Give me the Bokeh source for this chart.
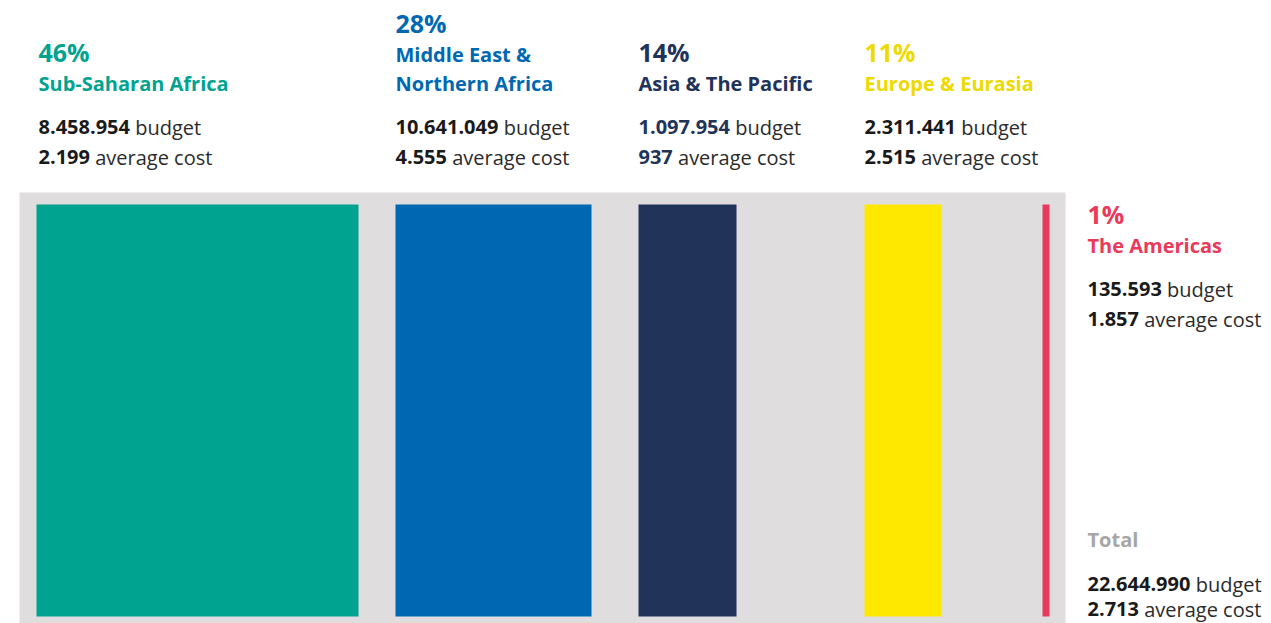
from bokeh.plotting import figure
from bokeh.models import Range1d, ColumnDataSource
from bokeh.embed import file_html
from bokeh.resources import INLINE
from bokeh.core.properties import value

# ---------------- data ----------------
regions = ["Sub-Saharan Africa", "Middle East &\nNorthern Africa", "Asia & The Pacific",
           "Europe & Eurasia", "The Americas"]
shares = [46, 28, 14, 11, 1]
budgets = ["8.458.954", "10.641.049", "1.097.954", "2.311.441", "135.593"]
avg_costs = ["2.199", "4.555", "937", "2.515", "1.857"]
total_label = "Total"
total_budget = "22.644.990"
total_avg_cost = "2.713"

# ---------------- styles / layout ----------------
bar_colors = ["#00A390", "#0068B3", "#22335A", "#FFE800", "#E83A5A"]
text_colors = ["#00A390", "#0068B3", "#22335A", "#EED900", "#E83A5A"]
num_colors = ["#1A1A1A", "#1A1A1A", "#22335A", "#1A1A1A", "#1A1A1A"]
bar_x = [36, 395, 638, 864, 1042]
text_x = [38, 395, 638, 864, 1087]
avg_base = [165, 165, 165, 165, 327]
PX_PER_PCT = 7
BAR_TOP, BAR_BOTTOM = 204, 616
BG_LEFT, BG_RIGHT, BG_TOP, BG_BOTTOM = 19, 1065, 192, 640
FONT = "Open Sans"
PCT_SIZE, TXT_SIZE = 25, 20
LINE_STAT, GAP_NAME, LINE_NAME, GAP_PCT = 30, 44, 29, 29
TOTAL_BASE = 547
BASE_FIX = 0.41  # em shift so glyph baselines land where intended

BOLD_W = {d: 0.572 for d in "0123456789"}
BOLD_W["."] = 0.286


def bold_width(s, size):
    return sum(BOLD_W.get(c, 0.6) for c in s) * size


SPACE = 0.26 * TXT_SIZE

W, H = 1271, 623
p = figure(width=W, height=H, output_backend="svg", toolbar_location=None,
           x_range=Range1d(0, W), y_range=Range1d(H, 0),
           x_axis_type=None, y_axis_type=None, min_border=0)
p.outline_line_color = None
p.grid.visible = False
p.background_fill_color = "white"
p.border_fill_color = "white"

# background panel
p.quad(left=[BG_LEFT], right=[BG_RIGHT], top=[BG_TOP], bottom=[BG_BOTTOM],
       fill_color="#DFDDDE", line_color=None)

# bars
src = ColumnDataSource(dict(
    left=bar_x,
    right=[x + s * PX_PER_PCT for x, s in zip(bar_x, shares)],
    top=[BAR_TOP] * len(shares),
    bottom=[BAR_BOTTOM] * len(shares),
    color=bar_colors,
))
p.quad(left="left", right="right", top="top", bottom="bottom", fill_color="color",
       line_color=None, source=src)

# text rows
bold_rows = dict(x=[], y=[], text=[], color=[], size=[])
reg_rows = dict(x=[], y=[], text=[], color=[])


def add_bold(x, y, t, c, size):
    bold_rows["x"].append(x); bold_rows["y"].append(y - BASE_FIX * size)
    bold_rows["text"].append(t)
    bold_rows["color"].append(c); bold_rows["size"].append(f"{size}px")


def add_reg(x, y, t, c="#2B2B2B"):
    reg_rows["x"].append(x); reg_rows["y"].append(y - BASE_FIX * TXT_SIZE)
    reg_rows["text"].append(t)
    reg_rows["color"].append(c)


for i, name in enumerate(regions):
    x = text_x[i]
    ya = avg_base[i]
    yb = ya - LINE_STAT
    lines = name.split("\n")
    y_last = yb - GAP_NAME
    for j, ln in enumerate(lines):
        add_bold(x, y_last - (len(lines) - 1 - j) * LINE_NAME, ln, text_colors[i], TXT_SIZE)
    y_first = y_last - (len(lines) - 1) * LINE_NAME
    add_bold(x, y_first - GAP_PCT, f"{shares[i]}%", text_colors[i], PCT_SIZE)
    add_bold(x, yb, budgets[i], num_colors[i], TXT_SIZE)
    add_reg(x + bold_width(budgets[i], TXT_SIZE) + SPACE, yb, "budget")
    add_bold(x, ya, avg_costs[i], num_colors[i], TXT_SIZE)
    add_reg(x + bold_width(avg_costs[i], TXT_SIZE) + SPACE, ya, "average cost")

# total block
tx = text_x[-1]
yb_t = TOTAL_BASE + 45
ya_t = yb_t + 25
add_bold(tx, TOTAL_BASE, total_label, "#A6A6A6", TXT_SIZE)
add_bold(tx, yb_t, total_budget, "#1A1A1A", TXT_SIZE)
add_reg(tx + bold_width(total_budget, TXT_SIZE) + SPACE, yb_t, "budget")
add_bold(tx, ya_t, total_avg_cost, "#1A1A1A", TXT_SIZE)
add_reg(tx + bold_width(total_avg_cost, TXT_SIZE) + SPACE, ya_t, "average cost")

p.text(x="x", y="y", text="text", text_color="color", text_font_size="size",
       text_font=value(FONT), text_font_style="bold", text_baseline="alphabetic",
       text_align="left", source=ColumnDataSource(bold_rows))
p.text(x="x", y="y", text="text", text_color="color", text_font_size=f"{TXT_SIZE}px",
       text_font=value(FONT), text_baseline="alphabetic", text_align="left",
       source=ColumnDataSource(reg_rows))

open("out.html", "w").write(file_html(p, INLINE))
